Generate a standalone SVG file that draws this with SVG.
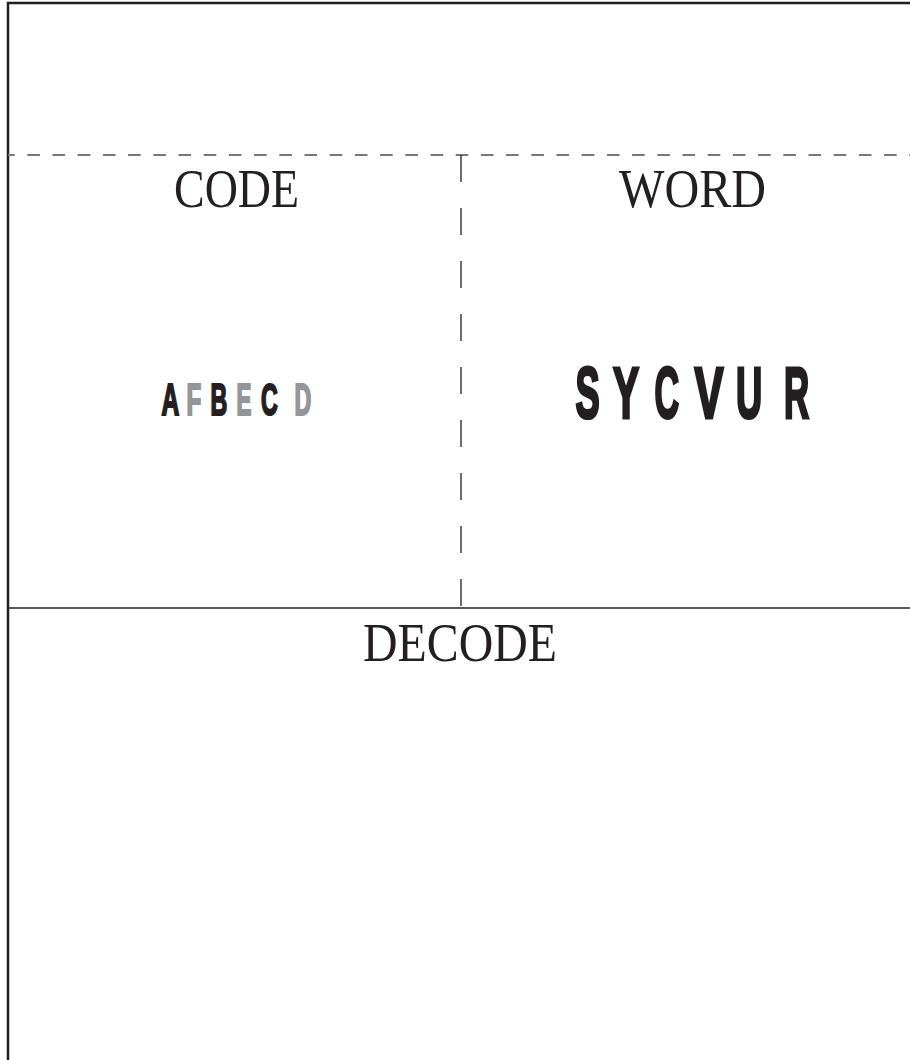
<svg xmlns="http://www.w3.org/2000/svg" width="910" height="1060" viewBox="0 0 910 1060">
  <style>
    .frame { fill: none; stroke: #231f20; stroke-width: 2.5; }
    .dash-h { stroke: #77787b; stroke-width: 2; stroke-dasharray: 12.6 12.6; stroke-dashoffset: 5.9; }
    .dash-v { stroke: #231f20; stroke-width: 1.3; stroke-dasharray: 27 26; }
    .solid { stroke: #231f20; stroke-width: 1.6; }
    .title { font-family: "Liberation Serif", "DejaVu Serif", serif; font-size: 54px; fill: #231f20; }
    .blk { font-family: "Liberation Sans", Arial, sans-serif; font-weight: bold; stroke-linejoin: miter; }
    .dark { fill: #231f20; stroke: #231f20; }
    .grey { fill: #939598; stroke: #939598; }
    .small { font-size: 44.7px; stroke-width: 2.2; }
    .big { font-size: 72.6px; stroke-width: 3.2; }
  </style>
  <rect width="910" height="1060" fill="#ffffff"/>
  <g id="frame">
    <polyline class="frame" points="8,1060 8,3 910,3"/>
  </g>
  <g id="connectors">
    <line class="dash-h" x1="8" y1="155" x2="910" y2="155"/>
    <line class="dash-v" x1="461" y1="155" x2="461" y2="608"/>
    <line class="solid" x1="8" y1="608" x2="910" y2="608"/>
  </g>
  <g id="code-panel">
    <text class="title" x="174" y="207" textLength="125" lengthAdjust="spacingAndGlyphs">CODE</text>
    <g class="blk small">
      <text class="dark" transform="translate(161.5,415) scale(0.55,1)">A</text>
      <text class="grey" transform="translate(186.5,415) scale(0.54,1)">F</text>
      <text class="dark" transform="translate(210.5,415) scale(0.52,1)">B</text>
      <text class="grey" transform="translate(236.5,415) scale(0.5,1)">E</text>
      <text class="dark" transform="translate(261,415) scale(0.52,1)">C</text>
      <text class="grey" transform="translate(294.5,415) scale(0.52,1)">D</text>
    </g>
  </g>
  <g id="word-panel">
    <text class="title" x="619" y="207" textLength="147" lengthAdjust="spacingAndGlyphs">WORD</text>
    <g class="blk big">
      <text class="dark" transform="translate(575.5,417.5) scale(0.5,1)">S</text>
      <text class="dark" transform="translate(613,417.5) scale(0.54,1)">Y</text>
      <text class="dark" transform="translate(654.5,417.5) scale(0.47,1)">C</text>
      <text class="dark" transform="translate(694.5,417.5) scale(0.6,1)">V</text>
      <text class="dark" transform="translate(736,417.5) scale(0.5,1)">U</text>
      <text class="dark" transform="translate(784,417.5) scale(0.48,1)">R</text>
    </g>
  </g>
  <g id="decode-panel">
    <text class="title" x="363" y="661" textLength="194" lengthAdjust="spacingAndGlyphs">DECODE</text>
  </g>
</svg>
